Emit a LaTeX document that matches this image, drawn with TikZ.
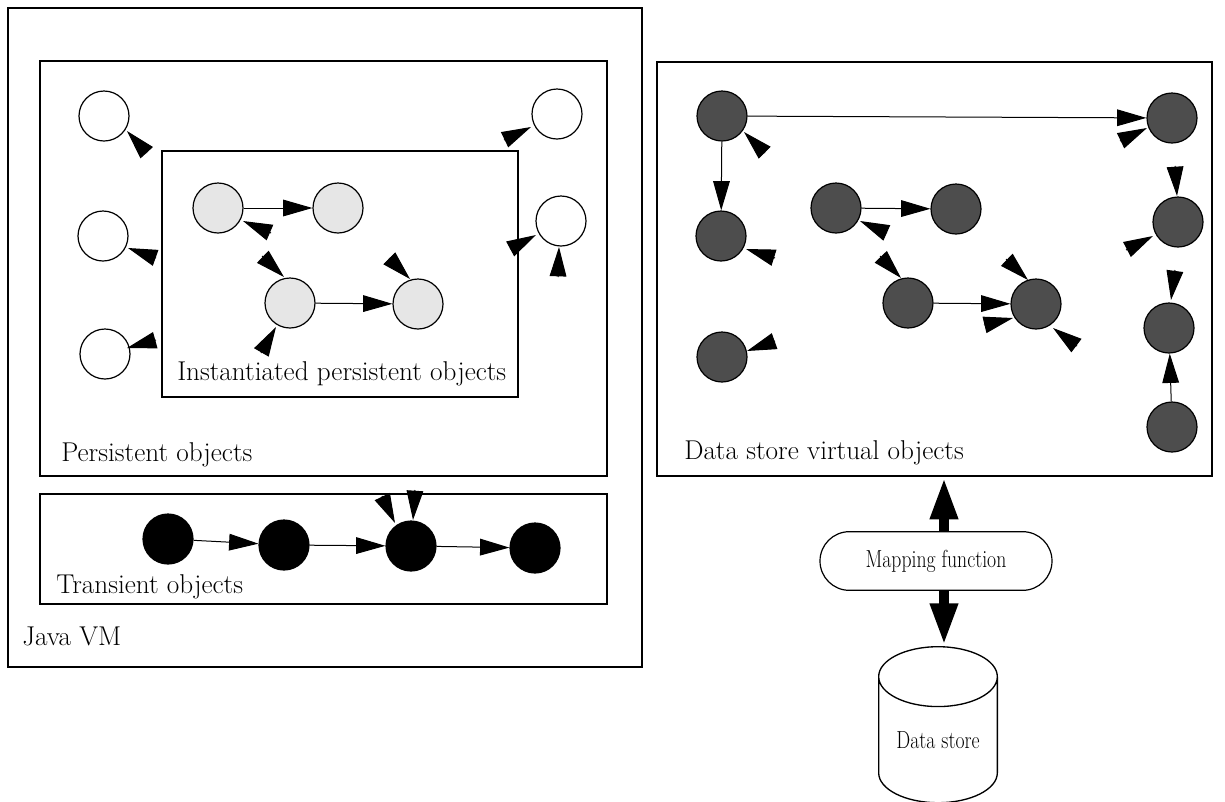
\documentclass[tikz,border=0pt]{standalone}
\usetikzlibrary{arrows.meta,shapes.geometric,shapes.misc,fit}

\definecolor{lightobj}{RGB}{230,230,230}
\definecolor{darkobj}{RGB}{77,77,77}
\newcommand{\narrowtext}[1]{\scalebox{0.8}[1]{#1}}

\tikzset{
  obj/.style={circle, draw, line width=0.9pt, minimum size=37.5pt, inner sep=0pt},
  freeobj/.style={obj, fill=white},
  instobj/.style={obj, fill=lightobj},
  virtobj/.style={obj, fill=darkobj},
  transobj/.style={obj, fill=black},
  box/.style={draw, line width=0.9pt, inner sep=0pt},
  ptr/.style={line width=0.75pt, -{Triangle[length=22pt,width=12.5pt]}},
  ref/.style={ptr},
  lbl/.style={anchor=base west, inner sep=0pt, font=\fontsize{20.4}{24}\selectfont},
  bigarrow/.style={line width=8pt, -{Triangle[length=32pt,width=19pt]}},
}

\begin{document}
\begin{tikzpicture}[x=0.75pt,y=0.75pt,yscale=-1,xscale=1]
\useasboundingbox (0,0) rectangle (1225,801);

%Shape: Rectangle
\node[box, fit={(8,8) (642,667)}] (JVM) {};
%Shape: Rectangle
\node[box, fit={(40,61) (607,476)}] (PO) {};
%Shape: Rectangle
\node[box, fit={(162,151) (518,397)}] (IPO) {};
%Shape: Rectangle
\node[box, fit={(40,494) (607,604)}] (TO) {};
%Shape: Rectangle
\node[box, fit={(657,62) (1212,476)}] (DSV) {};

%Shape: Circle
\node[freeobj] (W1) at (104,116) {};
\node[freeobj] (W2) at (103,236) {};
\node[freeobj] (W3) at (105,354) {};
\node[freeobj] (W4) at (557,114) {};
\node[freeobj] (W5) at (561,221) {};
%Shape: Circle
\node[instobj] (G1) at (218,208) {};
\node[instobj] (G2) at (338,208) {};
\node[instobj] (G3) at (290,303) {};
\node[instobj] (G4) at (418,304) {};
%Shape: Circle
\node[transobj] (B1) at (168,539) {};
\node[transobj] (B2) at (284,545) {};
\node[transobj] (B3) at (411,546) {};
\node[transobj] (B4) at (535,548) {};
%Shape: Circle
\node[virtobj] (D1) at (722,116) {};
\node[virtobj] (D2) at (721,236) {};
\node[virtobj] (D3) at (836,208) {};
\node[virtobj] (D4) at (956,209) {};
\node[virtobj] (D5) at (908,303) {};
\node[virtobj] (D6) at (1036,304) {};
\node[virtobj] (D7) at (722,357) {};
\node[virtobj] (R1) at (1172,118) {};
\node[virtobj] (R2) at (1178,222) {};
\node[virtobj] (R3) at (1169,328) {};
\node[virtobj] (R4) at (1172,427) {};

%Straight Lines
\draw[ptr] (G1) -- (G2);
\draw[ptr] (G3) -- (G4);
\draw[ptr] (B1) -- (B2);
\draw[ptr] (B2) -- (B3);
\draw[ptr] (B3) -- (B4);
\draw[ptr] (D1) -- (R1);
\draw[ptr] (D1) -- (D2);
\draw[ptr] (D3) -- (D4);
\draw[ptr] (D5) -- (D6);
\draw[ptr] (R4) -- (R3);

%Arrow heads
\draw[ref] (W1) ++(43,37) -- ++(-20,-22);
\draw[ref] (W2) ++(53,22) -- ++(-28,-10);
\draw[ref] (W3) ++(51,-14) -- ++(-29,8);
\draw[ref] (W4) ++(-53,26) -- ++(27,-13);
\draw[ref] (W5) ++(-51,28) -- ++(26,-14);
\draw[ref] (W5) ++(-3,56) -- ++(1,-30);
\draw[ref] (G1) ++(53,25) -- ++(-28,-12);
\draw[ref] (G3) ++(-28,-47) -- ++(22,21);
\draw[ref] (G3) ++(-29,50) -- ++(15,-26);
\draw[ref] (G4) ++(-29,-46) -- ++(21,21);
\draw[ref] (B3) ++(-29,-50) -- ++(13,27);
\draw[ref] (B3) ++(4,-56) -- ++(-2,30);
\draw[ref] (D1) ++(43,37) -- ++(-21,-21);
\draw[ref] (D2) ++(54,22) -- ++(-29,-9);
\draw[ref] (D3) ++(51,25) -- ++(-27,-12);
\draw[ref] (D5) ++(-28,-47) -- ++(21,22);
\draw[ref] (D6) ++(-30,-45) -- ++(22,21);
\draw[ref] (D6) ++(-52,21) -- ++(29,-7);
\draw[ref] (D6) ++(41,42) -- ++(-24,-18);
\draw[ref] (D7) ++(53,-16) -- ++(-28,10);
\draw[ref] (R1) ++(-52,23) -- ++(27,-13);
\draw[ref] (R2) ++(-3,-56) -- ++(2,30);
\draw[ref] (R2) ++(-52,28) -- ++(27,-14);
\draw[ref] (R3) ++(6,-58) -- ++(-4,30);

%Shape: Rounded Rectangle
\node[rounded rectangle, draw, line width=0.9pt, minimum width=174pt, minimum height=44pt, inner sep=0pt, font=\fontsize{18.5}{22}\selectfont] (MF) at (936,561) {\narrowtext{Mapping function}};
%Shape: Can
\node[cylinder, shape border rotate=90, draw, line width=1pt, aspect=0.72, minimum height=117pt, minimum width=89pt, inner sep=0pt, font=\fontsize{18.5}{22}\selectfont] (DS) at (938,740) {\narrowtext{Data store}};
%Straight Lines
\draw[bigarrow] ([xshift=6pt]MF.north) -- ([xshift=6pt]MF.north |- DSV.south);
\draw[bigarrow] ([xshift=6pt]MF.south) -- ([xshift=6pt]MF.south |- DS.top);

% Text Node
\node[lbl] (jvmlbl) at (22,645) {Java VM};
% Text Node
\node[lbl] (polbl) at (61,461) {Persistent objects};
% Text Node
\node[lbl] (tolbl) at (56,593) {Transient objects};
% Text Node
\node[lbl] (ipolbl) at (177,380) {Instantiated persistent objects};
% Text Node
\node[lbl] (dsvlbl) at (684,459) {Data store virtual objects};

\end{tikzpicture}
\end{document}
